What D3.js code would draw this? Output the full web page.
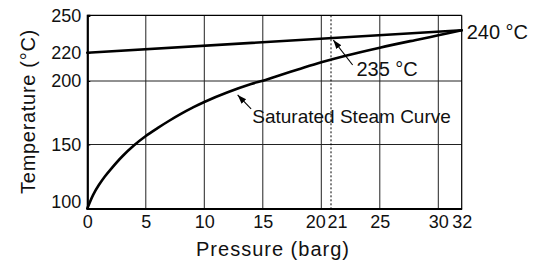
<!DOCTYPE html>
<html>
<head>
<meta charset="utf-8">
<script src="https://cdn.jsdelivr.net/npm/d3@7"></script>
<style>
  html, body { margin: 0; padding: 0; background: #fff; }
  svg { display: block; font-family: "Liberation Sans", Arial, Helvetica, sans-serif; }
</style>
</head>
<body>
<svg id="chart" width="544" height="262"></svg>
<script>
// ---- data ----
const pressureTicks = [0, 5, 10, 15, 20, 21, 25, 30, 32];
const pressureGrid = [5, 10, 15, 20, 25, 30];
const tempTicks = [100, 150, 200, 220, 250];
const tempGrid = [150, 200];

// Saturated steam curve
const satPressure = [0, 0.5, 1, 1.5, 2, 3, 4, 5, 6, 7, 8, 9, 10, 12, 14, 15, 16, 18, 20, 22, 25, 28, 30, 32];
const satTemp     = [100, 110.7, 118.5, 125, 130.6, 140.8, 149.4, 156.7, 162.9, 168.7, 174.1, 179, 183.5,
                     191.1, 197.6, 200.2, 202.9, 208.1, 213.2, 217.7, 224.5, 231.2, 235.5, 240];

// Superheated line
const superPressure = [0, 32];
const superTemp = [220, 240];

const markerPressure = 21;

const endLabel = "240 °C";
const markerLabel = "235 °C";
const curveLabel = "Saturated Steam Curve";
const xTitle = "Pressure (barg)";
const yTitle = "Temperature (°C)";

// ---- layout ----
const svg = d3.select("#chart");
const mLeft = 87.3, mRight = 461.7, mTop = 15.3, mBottom = 208.5;

const x = d3.scaleLinear().domain([0, 32]).range([mLeft, mRight]);
// hand-drawn axis: piecewise linear
const y = d3.scaleLinear()
  .domain([100, 150, 200, 220, 240, 250])
  .range([208.5, 144.5, 81, 52.7, 30.3, 15.3]);

// gridlines
svg.append("g").selectAll("line").data(pressureGrid).join("line")
  .attr("x1", d => x(d)).attr("x2", d => x(d))
  .attr("y1", mTop).attr("y2", mBottom)
  .attr("stroke", "#222").attr("stroke-width", 1);
svg.append("g").selectAll("line").data(tempGrid).join("line")
  .attr("x1", mLeft).attr("x2", mRight)
  .attr("y1", d => y(d)).attr("y2", d => y(d))
  .attr("stroke", "#222").attr("stroke-width", 1);

// dotted line at 21
svg.append("line")
  .attr("x1", x(markerPressure) - 2).attr("x2", x(markerPressure) - 2)
  .attr("y1", mTop).attr("y2", mBottom)
  .attr("stroke", "#000").attr("stroke-width", 1)
  .attr("stroke-dasharray", "2,2");

// frame: top & right thin
svg.append("line").attr("x1", mLeft).attr("x2", mRight).attr("y1", mTop).attr("y2", mTop)
  .attr("stroke", "#000").attr("stroke-width", 1.2);
svg.append("line").attr("x1", mRight).attr("x2", mRight).attr("y1", mTop).attr("y2", mBottom)
  .attr("stroke", "#000").attr("stroke-width", 1.2);

// axes
const xAxis = d3.axisBottom(x).tickValues(pressureTicks).tickSize(0).tickPadding(7);
const gx = svg.append("g").attr("transform", `translate(0,${mBottom})`).call(xAxis);
gx.select(".domain").attr("stroke", "#000").attr("stroke-width", 1.8);
gx.selectAll("text")
  .attr("font-size", 18).attr("fill", "#111")
  .attr("font-family", "Liberation Sans, Arial, sans-serif")
  .attr("dx", d => d === 20 ? -6 : d === 21 ? 4 : 0);

const yAxis = d3.axisLeft(y).tickValues(tempTicks).tickSize(-3).tickPadding(6);
const gy = svg.append("g").attr("transform", `translate(${mLeft},0)`).call(yAxis);
gy.select(".domain").attr("stroke", "#000").attr("stroke-width", 2.2);
gy.selectAll(".tick line").attr("stroke", "#000");
gy.selectAll("text")
  .attr("font-size", 18).attr("fill", "#111")
  .attr("font-family", "Liberation Sans, Arial, sans-serif")
  .attr("dy", d => d === 100 ? "-0.05em" : "0.32em");

// curves
const line = d3.line().x(d => x(d[0])).y(d => y(d[1])).curve(d3.curveCatmullRom.alpha(0.5));
svg.append("path")
  .datum(satPressure.map((p, i) => [p, satTemp[i]]))
  .attr("d", line).attr("fill", "none")
  .attr("stroke", "#000").attr("stroke-width", 2.6).attr("stroke-linecap", "round");
svg.append("path")
  .datum(superPressure.map((p, i) => [p, superTemp[i]]))
  .attr("d", d3.line().x(d => x(d[0])).y(d => y(d[1])))
  .attr("fill", "none")
  .attr("stroke", "#000").attr("stroke-width", 2.6).attr("stroke-linecap", "round");

// arrow marker
svg.append("defs").append("marker")
  .attr("id", "arr").attr("viewBox", "0 0 10 10")
  .attr("refX", 10).attr("refY", 5)
  .attr("markerWidth", 9).attr("markerHeight", 9)
  .attr("markerUnits", "userSpaceOnUse")
  .attr("orient", "auto")
  .append("path").attr("d", "M0,1.5 L10,5 L0,8.5 Z").attr("fill", "#000");

function arrow(p0, t0, p1, t1) {
  svg.append("line")
    .attr("x1", x(p0)).attr("y1", y(t0))
    .attr("x2", x(p1)).attr("y2", y(t1))
    .attr("stroke", "#000").attr("stroke-width", 1.1)
    .attr("marker-end", "url(#arr)");
}
arrow(22.68, 211.3, 21.03, 231.3);
arrow(14.0, 178, 12.85, 189);

// annotation labels
svg.append("text").attr("x", x(32) + 5).attr("y", y(240) + 8.5)
  .attr("font-size", 20).attr("fill", "#111").text(endLabel);
svg.append("text").attr("x", x(23.0)).attr("y", y(203.5))
  .attr("font-size", 20).attr("fill", "#111").text(markerLabel);
svg.append("text").attr("x", x(14.1)).attr("y", y(166.7))
  .attr("font-size", 19).attr("fill", "#111").text(curveLabel);

// axis titles
svg.append("text").attr("x", (mLeft + mRight) / 2 - 1.5).attr("y", 255.5)
  .attr("text-anchor", "middle").attr("font-size", 20).attr("letter-spacing", 1)
  .attr("fill", "#111").text(xTitle);
svg.append("text").attr("transform", "translate(35,111.5) rotate(-90)")
  .attr("text-anchor", "middle").attr("font-size", 20).attr("letter-spacing", 0.7)
  .attr("fill", "#111").text(yTitle);
</script>
</body>
</html>
